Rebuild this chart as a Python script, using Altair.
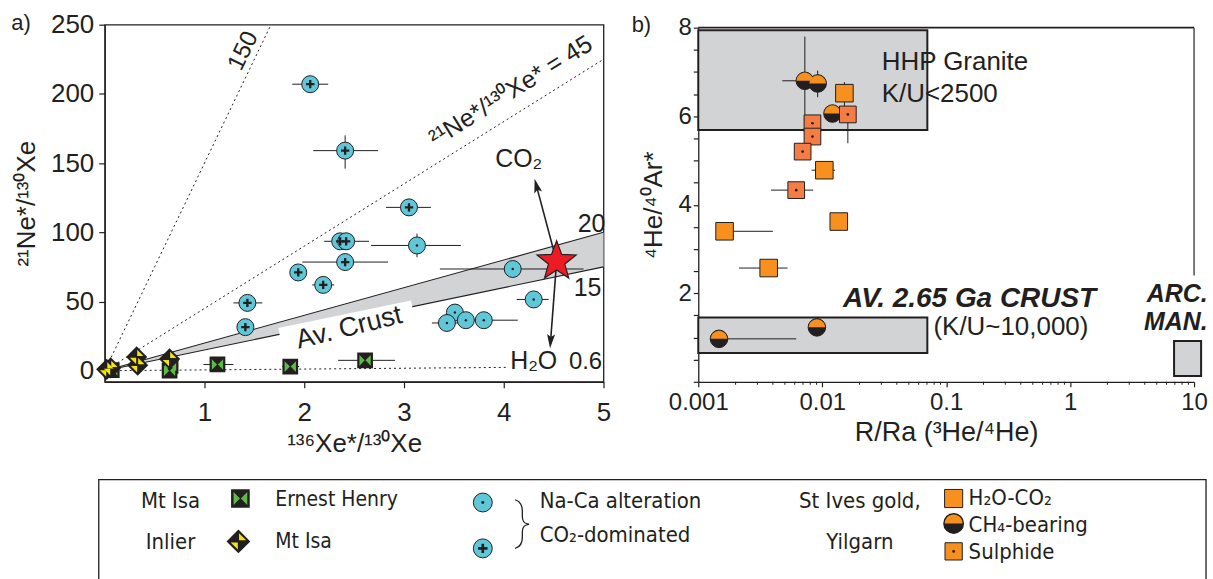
import math
import altair as alt
import pandas as pd

FONT = "Liberation Sans, Arial, Helvetica, sans-serif"
NARROW = "Liberation Sans Narrow, Arial Narrow, DejaVu Sans Condensed, sans-serif"
THIN = "Roboto Thin, Roboto, Lato, sans-serif"
INK = "#231f20"
CYAN = "#5fc7d7"
ORANGE = "#f7901e"
SALMON = "#f37d45"
GREEN = "#5dba46"
YELLOW = "#f3e600"
RED = "#ed1c24"
GREY = "#d1d3d4"

# ---------------- panel a data ----------------
co2_x = [2.06, 2.41, 3.05, 2.36, 2.42, 2.41, 1.94, 2.19, 1.43, 1.41]
co2_y = [207, 159, 118, 93.5, 93.5, 78.5, 71, 62, 49, 31.5]
co2_xlo = [1.88, 2.09, 2.82, 2.20, 2.30, 1.98, 1.90, 2.08, 1.29, 1.36]
co2_xhi = [2.24, 2.74, 3.27, 2.50, 2.65, 2.84, 1.98, 2.30, 1.58, 1.46]
co2_ylo = [203, 146, 115, 91, 91, 74, 69, 60, 47, 28]
co2_yhi = [211, 170, 121, 96, 96, 83, 73, 64, 51, 35]

naca_x = [3.13, 4.09, 4.30, 3.51, 3.43, 3.62, 3.80]
naca_y = [90.5, 73.5, 51.5, 42, 34.5, 36.5, 36.5]
naca_xlo = [2.67, 3.36, 4.13, 3.46, 3.28, 3.52, 3.62]
naca_xhi = [3.57, 4.80, 4.45, 3.56, 3.55, 3.72, 4.14]
naca_ylo = [82, 69, 49.5, 40, 32, 34.5, 34.5]
naca_yhi = [99, 78, 53.5, 44, 37, 38.5, 38.5]

eh_x = [0.07, 0.65, 0.66, 1.13, 1.86, 2.61]
eh_y = [0.5, 0.0, 3.5, 4.5, 3.0, 7.5]
eh_xlo = [0.07, 0.65, 0.66, 0.99, 1.78, 2.34]
eh_xhi = [0.07, 0.65, 0.66, 1.29, 1.95, 2.91]

mi_x = [0.02, 0.06, 0.32, 0.33, 0.65]
mi_y = [1.0, 2.0, 10.0, 4.0, 8.5]

star_x, star_y = [4.53], [79]

dotted_slopes = [150, 45, 0.6]
dotted_xend = [250 / 150, 5, 4.02]
crust_slopes = [20, 15]          # Av. crust band 21Ne*/136Xe* = 15 - 20

# ---------------- panel b data ----------------
h2o_x = [0.0151, 0.0104, 0.0136, 0.00163, 0.0037]
h2o_y = [6.52, 4.78, 3.62, 3.40, 2.57]
h2o_xlo = [0.0151, 0.0082, 0.0128, 0.00145, 0.00213]
h2o_xhi = [0.0151, 0.0127, 0.0148, 0.0040, 0.00525]
h2o_ylo = [6.21, 4.70, 3.55, 3.33, 2.50]
h2o_yhi = [6.77, 4.86, 3.69, 3.47, 2.64]

sul_x = [0.0161, 0.00834, 0.00834, 0.00695, 0.00617]
sul_y = [6.04, 5.84, 5.54, 5.20, 4.33]
sul_xlo = [0.0161, 0.00834, 0.00834, 0.00695, 0.00386]
sul_xhi = [0.0161, 0.00834, 0.00834, 0.00695, 0.00845]
sul_ylo = [5.39, 5.78, 5.46, 5.12, 4.25]
sul_yhi = [6.17, 5.92, 5.62, 5.28, 4.41]

ch4_x = [0.00724, 0.00919, 0.0121, 0.00147, 0.00906]
ch4_y = [6.80, 6.74, 6.06, 0.97, 1.23]
ch4_xlo = [0.00476, 0.0088, 0.0105, 0.00147, 0.00906]
ch4_xhi = [0.0085, 0.0095, 0.0135, 0.00617, 0.00906]
ch4_ylo = [5.84, 6.43, 5.95, 0.97, 1.23]
ch4_yhi = [7.80, 7.03, 6.20, 0.97, 1.23]

box_names = ["HHP", "AVC", "ARC"]
box_x = [0.001, 0.001, 6.9]
box_x2 = [0.0705, 0.0705, 11.4]
box_y = [5.69, 0.65, 0.13]
box_y2 = [7.94, 1.45, 0.92]

# ---------------- symbols ----------------
def star_path(n=5, r_in=0.42):
    pts = []
    for k in range(2 * n):
        r = 1.0 if k % 2 == 0 else r_in
        a = math.radians(-90 + k * 180 / n)
        pts.append(f"{r*math.cos(a):.3f},{r*math.sin(a):.3f}")
    return "M" + "L".join(pts) + "Z"

STAR = star_path()
PLUS = "M-0.28,-1H0.28V-0.28H1V0.28H0.28V1H-0.28V0.28H-1V-0.28H-0.28Z"
DIAMOND = "M0,-1L1,0L0,1L-1,0Z"
MI_TOP = "M0.06,-0.78L0.74,-0.1L0.06,-0.1Z"
MI_BOT = "M-0.06,0.78L-0.74,0.1L-0.06,0.1Z"
EH_L = "M-0.82,-0.78L-0.06,0L-0.82,0.78Z"
EH_R = "M0.82,-0.78L0.06,0L0.82,0.78Z"
HALF_TOP = "M-1,0A1,1,0,0,1,1,0Z"
ARROW = "M0,-1L0.5,0.75L0,0.4L-0.5,0.75Z"

common_axis = dict(labelFont=FONT, titleFont=FONT, labelColor=INK, titleColor=INK,
                   domainColor=INK, tickColor=INK, titleFontWeight="normal", grid=False,
                   domainWidth=1.3, tickWidth=1.2, labelFlush=False, labelOverlap=False)

# ================= PANEL A =================
W_A, H_A = 500, 358
xa = alt.Scale(domain=[0, 5], nice=False, zero=False)
ya = alt.Scale(domain=[-8, 250], nice=False, zero=False)
axA_x = alt.Axis(values=[1, 2, 3, 4, 5], title="¹³⁶Xe*/¹³⁰Xe", tickSize=6,
                 labelPadding=12, titlePadding=5, labelFontSize=26, titleFontSize=26,
                 **common_axis)
axA_y = alt.Axis(values=[0, 50, 100, 150, 200, 250], title="²¹Ne*/¹³⁰Xe", tickSize=6,
                 labelPadding=5, titlePadding=11, labelFontSize=26, titleFontSize=26,
                 **common_axis)

def XA(f):
    return alt.X(f, type="quantitative", scale=xa, axis=axA_x)

def YA(f):
    return alt.Y(f, type="quantitative", scale=ya, axis=axA_y)

band_df = pd.DataFrame({"x": [0, 5]})
band_df["yhi"] = band_df["x"] * crust_slopes[0]
band_df["ylo"] = band_df["x"] * crust_slopes[1]
band = alt.Chart(band_df).mark_area(color=GREY, opacity=1).encode(
    x=XA("x"), y=YA("yhi"), y2="ylo")

rows = []
for s, xe in zip(dotted_slopes, dotted_xend):
    rows += [{"s": str(s), "x": 0, "y": 0}, {"s": str(s), "x": xe, "y": s * xe}]
dotted = alt.Chart(pd.DataFrame(rows)).mark_line(
    color=INK, strokeWidth=1, strokeDash=[2, 3]).encode(x=XA("x"), y=YA("y"), detail="s:N")

rows = []
for s in crust_slopes:
    rows += [{"s": str(s), "x": 0, "y": 0}, {"s": str(s), "x": 5, "y": s * 5}]
crust_lines = alt.Chart(pd.DataFrame(rows)).mark_line(
    color=INK, strokeWidth=1.1).encode(x=XA("x"), y=YA("y"), detail="s:N")

patch_df = pd.DataFrame({"x": [1.75, 3.08]})
patch_df["y"] = patch_df["x"] * crust_slopes[1] + 1.0
patch = alt.Chart(patch_df).mark_line(color="white", strokeWidth=10, strokeCap="butt").encode(
    x=XA("x"), y=YA("y"))

crust_txt = alt.Chart(pd.DataFrame({"x": [2.45], "y": [31], "t": ["Av. Crust"]})).mark_text(
    font=FONT, fontSize=27, color=INK, angle=346).encode(x=XA("x"), y=YA("y"), text="t:N")

err_a = pd.DataFrame({
    "x": co2_x + naca_x + eh_x,
    "y": co2_y + naca_y + eh_y,
    "xlo": co2_xlo + naca_xlo + eh_xlo,
    "xhi": co2_xhi + naca_xhi + eh_xhi,
    "ylo": co2_ylo + naca_ylo + eh_y,
    "yhi": co2_yhi + naca_yhi + eh_y,
})
errx_a = alt.Chart(err_a).mark_rule(color=INK, strokeWidth=1).encode(
    x=XA("xlo"), x2="xhi", y=YA("y"))
erry_a = alt.Chart(err_a).mark_rule(color=INK, strokeWidth=1).encode(
    x=XA("x"), y=YA("ylo"), y2="yhi")

co2_df = pd.DataFrame({"x": co2_x, "y": co2_y})
naca_df = pd.DataFrame({"x": naca_x, "y": naca_y})
eh_df = pd.DataFrame({"x": eh_x, "y": eh_y})
mi_df = pd.DataFrame({"x": mi_x, "y": mi_y})

def pts(df, XF, YF, **kw):
    return alt.Chart(df).mark_point(filled=True, opacity=1, **kw).encode(x=XF("x"), y=YF("y"))

a_layers = [
    band, dotted, crust_lines, patch, crust_txt, errx_a, erry_a,
    pts(eh_df, XA, YA, shape="square", fill=INK, stroke=INK, size=190),
    pts(eh_df, XA, YA, shape=EH_L, fill=GREEN, size=190),
    pts(eh_df, XA, YA, shape=EH_R, fill=GREEN, size=190),
    pts(mi_df, XA, YA, shape=DIAMOND, fill=INK, stroke=INK, size=340),
    pts(mi_df, XA, YA, shape=MI_TOP, fill=YELLOW, size=340),
    pts(mi_df, XA, YA, shape=MI_BOT, fill=YELLOW, size=340),
    pts(naca_df, XA, YA, shape="circle", fill=CYAN, stroke=INK, strokeWidth=1, size=290),
    pts(naca_df, XA, YA, shape="circle", fill=INK, size=6),
    pts(co2_df, XA, YA, shape="circle", fill=CYAN, stroke=INK, strokeWidth=1, size=290),
    pts(co2_df, XA, YA, shape=PLUS, fill=INK, size=70),
]

# arrows from the star
arrow_tip_x = [4.33, 4.47]
arrow_tip_y = [133, 22]
arrow_angle = [345, 184]
arr_df = pd.DataFrame({"x": star_x * 2, "y": star_y * 2, "x2": arrow_tip_x, "y2": arrow_tip_y})
a_layers.append(alt.Chart(arr_df).mark_rule(color=INK, strokeWidth=1.6).encode(
    x=XA("x"), y=YA("y"), x2="x2", y2="y2"))
for tx, ty, ang in zip(arrow_tip_x, arrow_tip_y, arrow_angle):
    a_layers.append(pts(pd.DataFrame({"x": [tx], "y": [ty]}), XA, YA, shape=ARROW,
                        fill=INK, size=260, angle=ang))
a_layers.append(pts(pd.DataFrame({"x": star_x, "y": star_y}), XA, YA, shape=STAR, fill=RED,
                    stroke=INK, strokeWidth=1.2, size=1700))

def label(df, XF, YF, **kw):
    style = dict(font=FONT, fontSize=25, color=INK)
    style.update(kw)
    return alt.Chart(df).mark_text(**style).encode(x=XF("x"), y=YF("y"), text="t:N")

a_layers += [
    label(pd.DataFrame({"x": [1.39], "y": [231], "t": ["150"]}), XA, YA, angle=296, fontSize=24),
    label(pd.DataFrame({"x": [4.07], "y": [202], "t": ["²¹Ne*/¹³⁰Xe* = 45"]}), XA, YA,
          angle=328, fontSize=25),
    label(pd.DataFrame({"x": [4.15, 4.88, 4.84, 4.30], "y": [153, 106, 60, 7],
                        "t": ["CO₂", "20", "15", "H₂O"]}), XA, YA, fontSize=25),
    label(pd.DataFrame({"x": [4.82], "y": [6], "t": ["0.6"]}), XA, YA, fontSize=24),
    alt.Chart(pd.DataFrame({"t": ["a)"]})).mark_text(font=FONT, fontSize=22, color=INK).encode(
        x=alt.value(-84), y=alt.value(-2), text="t:N"),
]

panel_a = alt.layer(*a_layers).properties(
    width=W_A, height=H_A, view=alt.ViewBackground(stroke=INK, strokeWidth=1.3))

# ================= PANEL B =================
W_B, H_B = 497, 358
xb = alt.Scale(type="log", domain=[0.001, 10], nice=False)
yb = alt.Scale(domain=[0, 8], range=[H_B, 3], nice=False, zero=False)
axB_x = alt.Axis(values=[0.001, 0.01, 0.1, 1, 10], format="~g", title="R/Ra (³He/⁴He)",
                 tickSize=5, labelPadding=4, titlePadding=5, labelFontSize=24,
                 titleFontSize=27, **common_axis)
axB_y = alt.Axis(values=[i * 0.5 for i in range(17)],
                 labelExpr="datum.value % 2 == 0 && datum.value > 0 ? '' + datum.value : ''",
                 title="⁴He/⁴⁰Ar*", tickSize=5, labelPadding=2, titlePadding=12,
                 labelFontSize=24, titleFontSize=26, **common_axis)

def XB(f):
    return alt.X(f, type="quantitative", scale=xb, axis=axB_x)

def YB(f):
    return alt.Y(f, type="quantitative", scale=yb, axis=axB_y)

minor = [m * 10.0 ** e for e in range(-3, 1) for m in range(2, 10)]
minor_ticks = alt.Chart(pd.DataFrame({"x": minor})).mark_rule(color=INK, strokeWidth=1).encode(
    x=XB("x"), y=alt.value(H_B), y2=alt.value(H_B + 3))

frame_top = alt.Chart(pd.DataFrame({"x": [0.001], "x2": [10], "y": [8]})).mark_rule(
    color=INK, strokeWidth=1.6).encode(x=XB("x"), x2="x2", y=YB("y"))
frame_right = alt.Chart(pd.DataFrame({"x": [10], "y": [2.4], "y2": [8]})).mark_rule(
    color=INK, strokeWidth=1.2).encode(x=XB("x"), y=YB("y"), y2="y2")

boxes = alt.Chart(pd.DataFrame({"n": box_names, "x": box_x, "x2": box_x2, "y": box_y, "y2": box_y2})
                  ).mark_rect(fill=GREY, stroke=INK, strokeWidth=2).encode(
    x=XB("x"), x2="x2", y=YB("y"), y2="y2")

err_b = pd.DataFrame({
    "x": h2o_x + sul_x + ch4_x, "y": h2o_y + sul_y + ch4_y,
    "xlo": h2o_xlo + sul_xlo + ch4_xlo, "xhi": h2o_xhi + sul_xhi + ch4_xhi,
    "ylo": h2o_ylo + sul_ylo + ch4_ylo, "yhi": h2o_yhi + sul_yhi + ch4_yhi,
})
errx_b = alt.Chart(err_b).mark_rule(color=INK, strokeWidth=1).encode(x=XB("xlo"), x2="xhi", y=YB("y"))
erry_b = alt.Chart(err_b).mark_rule(color=INK, strokeWidth=1).encode(x=XB("x"), y=YB("ylo"), y2="yhi")

h2o_df = pd.DataFrame({"x": h2o_x, "y": h2o_y})
sul_df = pd.DataFrame({"x": sul_x, "y": sul_y})
ch4_df = pd.DataFrame({"x": ch4_x, "y": ch4_y})

b_layers = [
    minor_ticks, boxes, frame_top, frame_right, errx_b, erry_b,
    pts(ch4_df, XB, YB, shape="circle", fill=INK, stroke=INK, strokeWidth=1, size=310),
    pts(ch4_df, XB, YB, shape=HALF_TOP, fill=ORANGE, size=270),
    pts(sul_df, XB, YB, shape="square", fill=SALMON, stroke=INK, strokeWidth=1, size=280),
    pts(sul_df, XB, YB, shape="circle", fill=INK, size=7),
    pts(h2o_df, XB, YB, shape="square", fill=ORANGE, stroke=INK, strokeWidth=1, size=310),
    label(pd.DataFrame({"x": [0.0302, 0.0302], "y": [7.22, 6.50], "t": ["HHP Granite", "K/U<2500"]}),
          XB, YB, align="left", fontSize=26),
    label(pd.DataFrame({"x": [1.62], "y": [1.88], "t": ["AV. 2.65 Ga CRUST"]}), XB, YB,
          align="right", fontWeight="bold", fontStyle="italic", fontSize=28),
    label(pd.DataFrame({"x": [0.079], "y": [1.24], "t": ["(K/U~10,000)"]}), XB, YB,
          align="left", fontSize=26),
    label(pd.DataFrame({"x": [12.9, 12.9], "y": [1.98, 1.36], "t": ["ARC.", "MAN."]}), XB, YB,
          align="right", fontWeight="bold", fontStyle="italic", fontSize=25),
    alt.Chart(pd.DataFrame({"t": ["b)"]})).mark_text(font=FONT, fontSize=22, color=INK).encode(
        x=alt.value(-57), y=alt.value(0), text="t:N"),
]
panel_b = alt.layer(*b_layers).properties(
    width=W_B, height=H_B, view=alt.ViewBackground(stroke="transparent"))

# ================= LEGEND =================
LW, LH = 1110, 116
BOX_SHIFT = -6          # legend box starts a little left of the panel-a axis
lx = alt.Scale(domain=[0, LW], range=[BOX_SHIFT, LW + BOX_SHIFT], nice=False, zero=False)
ly = alt.Scale(domain=[0, LH], range=[0, LH], nice=False, zero=False)

def XL(f):
    return alt.X(f, type="quantitative", scale=lx, axis=None)

def YL(f):
    return alt.Y(f, type="quantitative", scale=ly, axis=None)

# legend layout (column anchors and row offsets inside the box)
col_group_a, col_sym_a, col_txt_a = 72, 142, 177
col_sym_c, col_brace, col_txt_c = 385, 425, 442
col_group_b, col_sym_b, col_txt_b = 763, 857, 872
row1, row2 = 22, 63

def ltext(items, align="left", size=21, font=NARROW, weight="normal"):
    df = pd.DataFrame(items, columns=["x", "y", "t"])
    return alt.Chart(df).mark_text(font=font, fontSize=size, color=INK, align=align,
                                   fontWeight=weight).encode(
        x=XL("x"), y=YL("y"), text="t:N")

def lsym(x, y, **kw):
    return pts(pd.DataFrame({"x": [x], "y": [y]}), XL, YL, **kw)

box_df = pd.DataFrame({"x": [0], "x2": [LW], "y": [0], "y2": [LH]})
leg_layers = [
    alt.Chart(box_df).mark_rect(fill="white", stroke=INK, strokeWidth=1.3).encode(
        x=XL("x"), x2="x2", y=YL("y"), y2="y2"),
    ltext([(col_group_a, row1, "Mt Isa"), (col_group_a, row2, "Inlier"),
           (col_group_b, row1, "St Ives gold,"), (col_group_b, row2, "Yilgarn")], align="center", size=22),
    ltext([(col_txt_a, row1 - 1, "Ernest Henry"), (col_txt_a, row2, "Mt Isa")]),
    ltext([(col_txt_c, row1, "Na-Ca alteration"), (col_txt_c, row1 + 34, "CO₂-dominated"),
           (col_txt_b, 19, "H₂O-CO₂"), (col_txt_b, 46, "CH₄-bearing"), (col_txt_b, 73, "Sulphide")],
          size=22),
    ltext([(col_brace, 44, "}")], align="center", size=50, font=THIN, weight=100),
    lsym(col_sym_a, 19, shape="square", fill=INK, stroke=INK, size=280),
    lsym(col_sym_a, 19, shape=EH_L, fill=GREEN, size=280),
    lsym(col_sym_a, 19, shape=EH_R, fill=GREEN, size=280),
    lsym(col_sym_a - 2, 62, shape=DIAMOND, fill=INK, stroke=INK, size=440),
    lsym(col_sym_a - 2, 62, shape=MI_TOP, fill=YELLOW, size=440),
    lsym(col_sym_a - 2, 62, shape=MI_BOT, fill=YELLOW, size=440),
    lsym(col_sym_c, 23, shape="circle", fill=CYAN, stroke=INK, strokeWidth=1, size=360),
    lsym(col_sym_c, 23, shape="circle", fill=INK, size=9),
    lsym(col_sym_c, 69, shape="circle", fill=CYAN, stroke=INK, strokeWidth=1, size=360),
    lsym(col_sym_c, 69, shape=PLUS, fill=INK, size=90),
    lsym(col_sym_b, 19, shape="square", fill=ORANGE, stroke=INK, strokeWidth=1, size=330),
    lsym(col_sym_b, 44, shape="circle", fill=INK, stroke=INK, size=360),
    lsym(col_sym_b, 44, shape=HALF_TOP, fill=ORANGE, size=320),
    lsym(col_sym_b, 72, shape="square", fill=ORANGE, stroke=INK, strokeWidth=1, size=300),
    lsym(col_sym_b, 72, shape="circle", fill=INK, size=8),
]
legend = alt.layer(*leg_layers).properties(
    width=LW, height=LH, view=alt.ViewBackground(stroke="transparent"))

top = alt.hconcat(panel_a, panel_b, spacing=19)
chart = alt.vconcat(top, legend, spacing=20).properties(
    padding={"left": 10, "top": 10, "right": 0, "bottom": 0},
    background="white",
).configure(font=FONT)

chart.save("out.html", embed_options={"renderer": "svg", "actions": False})
